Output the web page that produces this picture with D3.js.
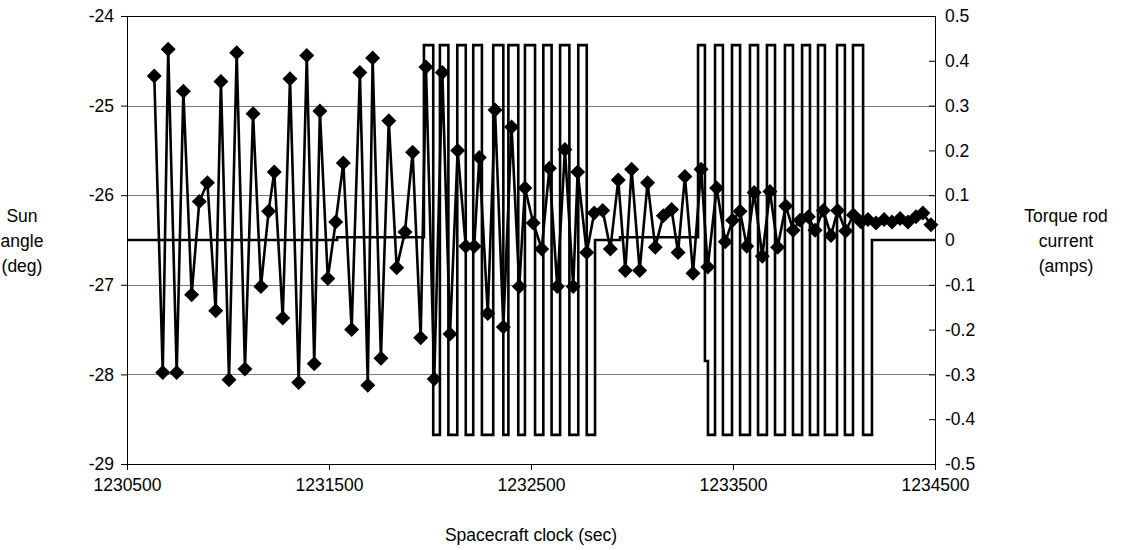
<!DOCTYPE html>
<html>
<head>
<meta charset="utf-8">
<script src="https://cdn.jsdelivr.net/npm/d3@7"></script>
<style>
  body { margin: 0; background: #fff; }
  text { font-family: "Liberation Sans", Arial, sans-serif; font-size: 17.5px; fill: #000; }
</style>
</head>
<body>
<svg id="chart" width="1128" height="550"></svg>
<script>
// sun angle samples (spacecraft clock sec, deg)
var sunTime = [1230635,1230677,1230704,1230746,1230779,1230820,1230858,1230898,1230939,1230965,
  1231005,1231043,1231084,1231124,1231163,1231201,1231229,1231271,1231307,1231350,
  1231390,1231427,1231455,1231494,1231533,1231571,1231612,1231653,1231692,1231716,
  1231757,1231796,1231835,1231876,1231914,1231954,1231980,1232021,1232061,1232099,
  1232137,1232177,1232219,1232244,1232286,1232322,1232363,1232404,1232442,1232470,
  1232511,1232553,1232591,1232630,1232668,1232709,1232731,1232776,1232813,1232855,
  1232893,1232932,1232967,1232998,1233038,1233077,1233115,1233155,1233196,1233228,
  1233262,1233302,1233342,1233375,1233419,1233462,1233498,1233535,1233568,1233605,
  1233645,1233683,1233721,1233761,1233798,1233832,1233873,1233906,1233947,1233985,
  1234018,1234058,1234096,1234134,1234168,1234208,1234248,1234287,1234327,1234366,
  1234406,1234440,1234480];
var sunAngle = [-24.67,-27.98,-24.37,-27.98,-24.84,-27.11,-26.07,-25.86,-27.29,-24.73,
  -28.06,-24.41,-27.94,-25.09,-27.02,-26.18,-25.74,-27.37,-24.70,-28.09,
  -24.44,-27.88,-25.06,-26.93,-26.30,-25.64,-27.50,-24.63,-28.12,-24.47,
  -27.82,-25.17,-26.81,-26.41,-25.52,-27.59,-24.57,-28.05,-24.63,-27.55,
  -25.50,-26.57,-26.57,-25.58,-27.32,-25.05,-27.47,-25.24,-27.02,-25.92,
  -26.31,-26.60,-25.70,-27.02,-25.49,-27.02,-25.74,-26.64,-26.20,-26.17,
  -26.60,-25.83,-26.84,-25.71,-26.84,-25.86,-26.58,-26.23,-26.16,-26.64,
  -25.79,-26.87,-25.71,-26.80,-25.92,-26.52,-26.28,-26.18,-26.57,-25.97,
  -26.68,-25.96,-26.58,-26.12,-26.39,-26.28,-26.24,-26.39,-26.17,-26.45,
  -26.17,-26.40,-26.22,-26.30,-26.27,-26.31,-26.27,-26.30,-26.26,-26.30,
  -26.24,-26.20,-26.33];

// torque rod current, step changes (sec, amps)
var rodTime = [1230500,1231540,1231970,1232016,1232049,1232091,1232135,1232177,1232214,1232257,
  1232313,1232363,1232388,1232437,1232470,1232520,1232561,1232602,1232644,1232690,
  1232734,1232776,1232817,1232941,1233327,1233361,1233376,1233411,1233450,1233495,
  1233535,1233584,1233624,1233668,1233708,1233757,1233797,1233842,1233881,1233921,
  1233955,1234015,1234054,1234094,1234144,1234188,1234500];
var rodCurrent = [0,0.006,0.435,-0.435,0.435,-0.435,0.435,-0.435,0.435,-0.435,
  0.435,-0.435,0.435,-0.435,0.435,-0.435,0.435,-0.435,0.435,-0.435,
  0.435,-0.435,0,0.006,0.435,-0.27,-0.435,0.435,-0.435,0.435,
  -0.435,0.435,-0.435,0.435,-0.435,0.435,-0.435,0.435,-0.435,0.435,
  -0.435,0.435,-0.435,0.435,-0.435,0,0];

var xTicks = [1230500, 1231500, 1232500, 1233500, 1234500];
var leftTicks = [-29, -28, -27, -26, -25, -24];
var rightTicks = [-0.5, -0.4, -0.3, -0.2, -0.1, 0, 0.1, 0.2, 0.3, 0.4, 0.5];

var svg = d3.select("#chart"),
    margin = {top: 16, left: 127},
    width = 808,
    height = 448;

var g = svg.append("g")
    .attr("transform", "translate(" + margin.left + "," + margin.top + ")");

var x = d3.scaleLinear().domain([1230500, 1234500]).range([0, width]);
var y = d3.scaleLinear().domain([-29, -24]).range([height, 0]);
var y2 = d3.scaleLinear().domain([-0.5, 0.5]).range([height, 0]);

// gridlines
g.append("g")
    .selectAll("line")
    .data(leftTicks.slice(1, -1))
    .enter().append("line")
    .attr("x1", 0).attr("x2", width)
    .attr("y1", function(d) { return Math.round(y(d)) + 0.5; })
    .attr("y2", function(d) { return Math.round(y(d)) + 0.5; })
    .attr("stroke", "#7a7a7a");

// frame
g.append("rect")
    .attr("x", 0.5).attr("y", 0.5)
    .attr("width", width).attr("height", height)
    .attr("fill", "none")
    .attr("stroke", "#000");

// axes - plain hyphen minus like the original
var fmt = function(d) { return String(+d.toFixed(1)); };

g.append("g")
    .attr("transform", "translate(0," + height + ")")
    .call(d3.axisBottom(x).tickValues(xTicks).tickSize(6).tickPadding(9).tickFormat(fmt))
    .call(function(a) { a.select(".domain").remove(); });

g.append("g")
    .call(d3.axisLeft(y).tickValues(leftTicks).tickSize(6).tickPadding(7).tickFormat(fmt))
    .call(function(a) { a.select(".domain").remove(); });

g.append("g")
    .attr("transform", "translate(" + width + ",0)")
    .call(d3.axisRight(y2).tickValues(rightTicks).tickSizeInner(-6).tickSizeOuter(0).tickPadding(10).tickFormat(fmt))
    .call(function(a) { a.select(".domain").remove(); });

svg.selectAll(".tick text")
    .style("font-family", "'Liberation Sans', Arial, sans-serif")
    .style("font-size", "17.5px")
    .attr("fill", "#000");
svg.selectAll(".tick line").attr("stroke", "#000");

// torque rod current (secondary axis)
var rodData = rodTime.map(function(t, i) { return [t, rodCurrent[i]]; });
g.append("path")
    .datum(rodData)
    .attr("fill", "none")
    .attr("stroke", "#000")
    .attr("stroke-width", 2.6)
    .attr("d", d3.line()
        .curve(d3.curveStepAfter)
        .x(function(d) { return x(d[0]); })
        .y(function(d) { return y2(d[1]); }));

// sun angle line + diamonds
var sunData = sunTime.map(function(t, i) { return [t, sunAngle[i]]; });
g.append("path")
    .datum(sunData)
    .attr("fill", "none")
    .attr("stroke", "#000")
    .attr("stroke-width", 2.6)
    .attr("d", d3.line()
        .x(function(d) { return x(d[0]); })
        .y(function(d) { return y(d[1]); }));

g.append("g")
    .selectAll("path")
    .data(sunData)
    .enter().append("path")
    .attr("transform", function(d) { return "translate(" + x(d[0]) + "," + y(d[1]) + ")"; })
    .attr("d", "M0,-7.5L7.5,0L0,7.5L-7.5,0Z")
    .attr("fill", "#000");

// titles
svg.append("text")
    .attr("x", margin.left + width / 2)
    .attr("y", 541)
    .attr("text-anchor", "middle")
    .text("Spacecraft clock (sec)");

svg.append("text")
    .attr("text-anchor", "middle")
    .selectAll("tspan")
    .data(["Sun", "angle", "(deg)"])
    .enter().append("tspan")
    .attr("x", 22)
    .attr("y", function(d, i) { return 222 + i * 25; })
    .text(function(d) { return d; });

svg.append("text")
    .attr("text-anchor", "middle")
    .selectAll("tspan")
    .data(["Torque rod", "current", "(amps)"])
    .enter().append("tspan")
    .attr("x", 1066)
    .attr("y", function(d, i) { return 222 + i * 25; })
    .text(function(d) { return d; });
</script>
</body>
</html>
